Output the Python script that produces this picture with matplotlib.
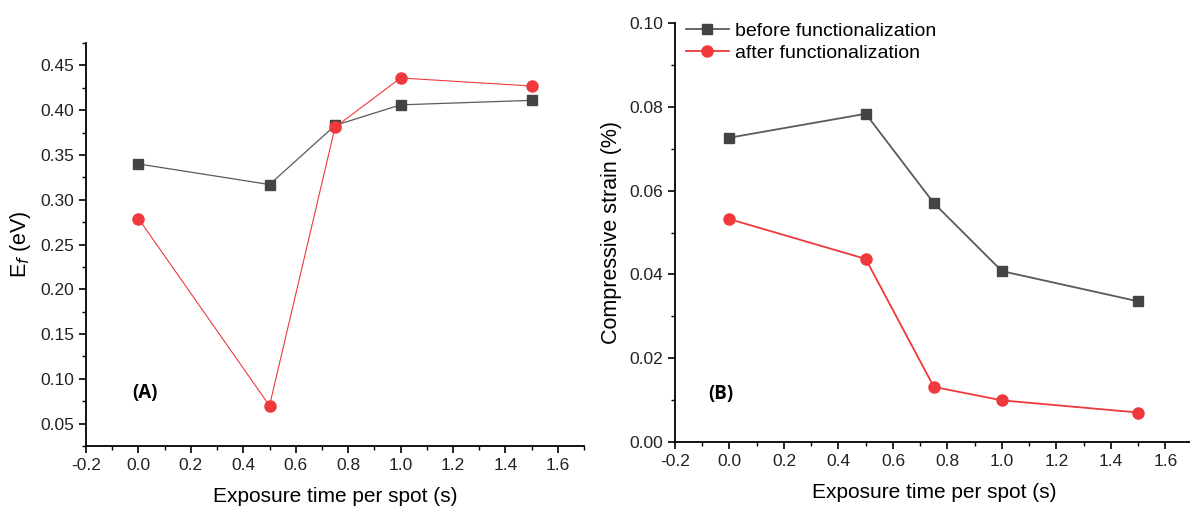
import matplotlib
matplotlib.use('Agg')
import matplotlib.pyplot as plt
from matplotlib.ticker import MultipleLocator

plt.rcParams['font.family'] = ['Liberation Sans', 'DejaVu Sans']
plt.rcParams['axes.unicode_minus'] = False

exposure = [0.0, 0.5, 0.75, 1.0, 1.5]
ef_before = [0.340, 0.317, 0.383, 0.406, 0.411]
ef_after = [0.279, 0.070, 0.381, 0.436, 0.427]
strain_before = [0.0726, 0.0783, 0.0570, 0.0408, 0.0336]
strain_after = [0.0532, 0.0437, 0.0132, 0.0100, 0.0071]

gray_line = '#5a5a5a'
gray_mark = '#444444'
red = '#f0393c'

fig = plt.figure(figsize=(11.9, 5.12), dpi=100)
axA = fig.add_axes([0.0723, 0.1289, 0.4185, 0.787])
axB = fig.add_axes([0.5672, 0.1361, 0.4351, 0.8195])

def style_axes(ax):
    for side in ['top', 'right']:
        ax.spines[side].set_visible(False)
    for side in ['left', 'bottom']:
        ax.spines[side].set_linewidth(1.3)
    ax.tick_params(which='major', direction='out', length=5, width=1.2,
                   labelsize=12.5, labelcolor='#222222')
    ax.tick_params(which='minor', direction='out', length=3, width=1.0)
    ax.xaxis.set_major_locator(MultipleLocator(0.2))
    ax.xaxis.set_minor_locator(MultipleLocator(0.1))
    ax.set_xlim(-0.2, 1.7)
    ax.set_xlabel('Exposure time per spot (s)', fontsize=15, labelpad=10)

# panel A
axA.plot(exposure, ef_before, color=gray_line, lw=0.9, marker='s', ms=7,
         mfc=gray_mark, mec=gray_mark)
axA.plot(exposure, ef_after, color=red, lw=0.8, marker='o', ms=8,
         mfc=red, mec=red)
style_axes(axA)
axA.set_ylim(0.025, 0.475)
axA.yaxis.set_major_locator(MultipleLocator(0.05))
axA.yaxis.set_minor_locator(MultipleLocator(0.025))
axA.yaxis.set_major_formatter(plt.FormatStrFormatter('%.2f'))
axA.set_ylabel(r'E$_f$ (eV)', fontsize=15.5, labelpad=5)
axA.text(0.025, 0.0846, '(A)', fontsize=13.5, fontweight='bold', family='Open Sans',
         ha='center', va='center')

# panel B
axB.plot(exposure, strain_before, color=gray_line, lw=1.3, marker='s', ms=7,
         mfc=gray_mark, mec=gray_mark, label='before functionalization')
axB.plot(exposure, strain_after, color=red, lw=1.3, marker='o', ms=8,
         mfc=red, mec=red, label='after functionalization')
style_axes(axB)
axB.set_ylim(0, 0.1)
axB.yaxis.set_major_locator(MultipleLocator(0.02))
axB.yaxis.set_minor_locator(MultipleLocator(0.01))
axB.yaxis.set_major_formatter(plt.FormatStrFormatter('%.2f'))
axB.set_ylabel('Compressive strain (%)', fontsize=15.5, labelpad=5)
axB.text(-0.031, 0.0114, '(B)', fontsize=13.5, fontweight='bold', family='Open Sans',
         ha='center', va='center')
axB.legend(loc='upper left', frameon=False, fontsize=14, handlelength=2.2,
           handletextpad=0.35, borderaxespad=0.1, labelspacing=0.25,
           bbox_to_anchor=(0.002, 1.025))

fig.savefig('out.png', dpi=100)
